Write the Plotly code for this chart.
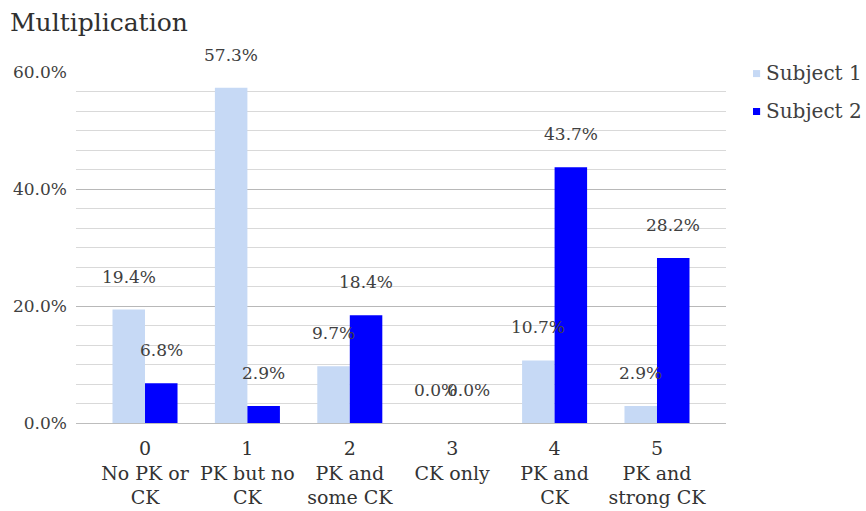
import plotly.graph_objects as go

# Scores on the multiplication task, share of responses per category (%)
codes = ["0", "1", "2", "3", "4", "5"]
descriptions = ["No PK or<br>CK", "PK but no<br>CK", "PK and<br>some CK", "CK only",
                "PK and<br>CK", "PK and<br>strong CK"]
subject1 = [19.4, 57.3, 9.7, 0.0, 10.7, 2.9]
subject2 = [6.8, 2.9, 18.4, 0.0, 43.7, 28.2]
series_names = ["Subject 1", "Subject 2"]
series_colors = ["#C6D9F5", "#0000FF"]
y_ticks = [0, 20, 40, 60]

FONT = "DejaVu Serif"
TEXT = "#404040"

x_pos = list(range(len(codes)))
tick_text = [f"{c}<br>{d}" for c, d in zip(codes, descriptions)]

fig = go.Figure()
for name, vals, col in zip(series_names, [subject1, subject2], series_colors):
    fig.add_trace(go.Bar(x=x_pos, y=vals, name=name, marker=dict(color=col, line=dict(width=0)),
                         showlegend=False))

# value labels floating above each bar
bar_px = 32.5
for k, vals in enumerate([subject1, subject2]):
    shift = -bar_px / 2 if k == 0 else bar_px / 2
    for x, v in zip(x_pos, vals):
        fig.add_annotation(x=x, y=v, xref="x", yref="y", text=f"{v:.1f}%", showarrow=False,
                           xshift=shift, yshift=33, yanchor="middle",
                           font=dict(family=FONT, size=17, color=TEXT))

# legend drawn as small swatches with labels on the right side
legend_y = [0.996, 0.888]
for name, col, ly in zip(series_names, series_colors, legend_y):
    fig.add_shape(type="rect", xref="paper", yref="paper",
                  x0=1.0415, x1=1.0525, y0=ly - 0.0105, y1=ly + 0.0095,
                  fillcolor=col, line=dict(width=0))
    fig.add_annotation(x=1.0585, y=ly, xref="paper", yref="paper", text=name, showarrow=False,
                       xanchor="left", yanchor="middle",
                       font=dict(family=FONT, size=20, color=TEXT))

fig.update_layout(
    width=866, height=511,
    margin=dict(l=76, r=140, t=71.5, b=87.5, autoexpand=False),
    paper_bgcolor="white", plot_bgcolor="white",
    barmode="group", bargap=0.365, bargroupgap=0,
    title=dict(text="Multiplication", x=0.0115, xanchor="left", y=0.957, yanchor="middle",
               font=dict(family=FONT, size=25, color="#303030")),
    font=dict(family=FONT, color=TEXT),
)
fig.update_xaxes(
    range=[-0.674, 5.674], tickvals=x_pos, ticktext=tick_text, automargin=False,
    tickfont=dict(family=FONT, size=19, color="#333333"), ticklabelstandoff=8,
    showgrid=False, showline=True, linecolor="#bdbdbd", linewidth=1.3,
    ticks="", zeroline=False,
)
fig.update_yaxes(
    range=[0, 60], tickvals=y_ticks, ticktext=[f"{t:.1f}%" for t in y_ticks], automargin=False,
    tickfont=dict(family=FONT, size=17, color=TEXT), ticklabelstandoff=8,
    showgrid=True, gridcolor="#b8b8b8", gridwidth=1.2, zeroline=False,
    minor=dict(dtick=20 / 6, showgrid=True, gridcolor="#d9d9d9", gridwidth=1.2),
)

fig.write_html("out.html")
